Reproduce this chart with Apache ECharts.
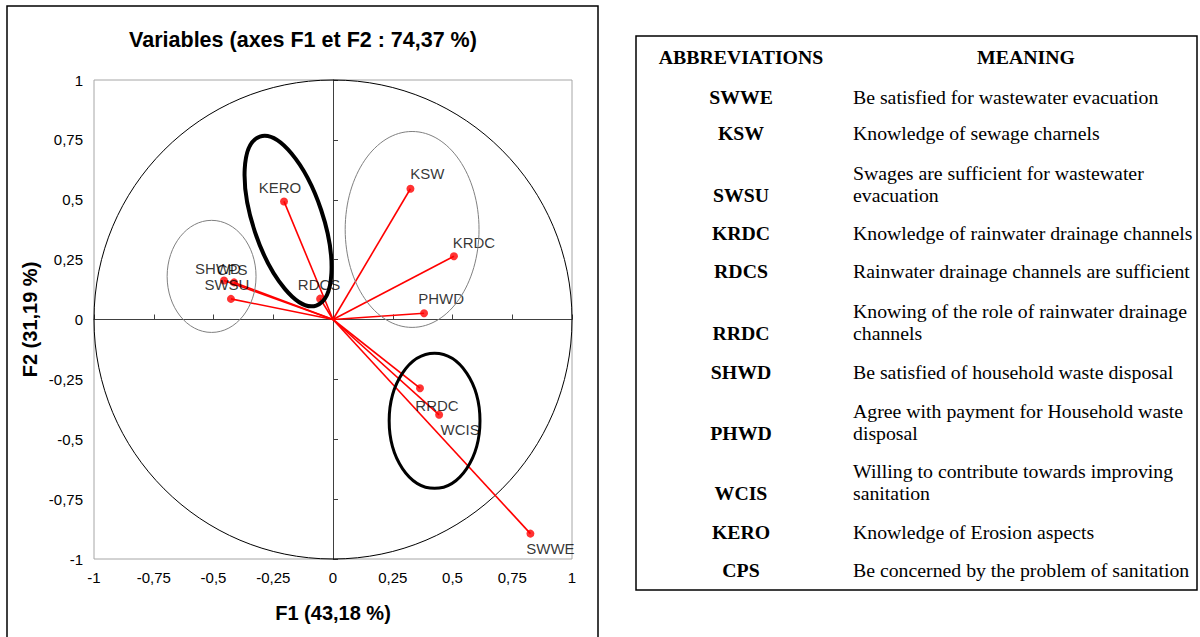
<!DOCTYPE html>
<html>
<head>
<meta charset="utf-8">
<title>Variables (axes F1 et F2)</title>
<script src="https://cdn.jsdelivr.net/npm/echarts@6/dist/echarts.min.js"></script>
<style>
  html, body { margin: 0; padding: 0; background: #fff; }
  #chart { width: 1200px; height: 637px; }
</style>
</head>
<body>
<div id="chart"></div>
<script>
// variable coordinates on the first two factors
const varNames = ['SWWE', 'KSW', 'SWSU', 'KRDC', 'RDCS', 'RRDC', 'SHWD', 'PHWD', 'WCIS', 'KERO', 'CPS'];
const f1 = [0.826, 0.324, -0.427, 0.506, -0.054, 0.364, -0.456, 0.381, 0.444, -0.205, -0.414];
const f2 = [-0.894, 0.546, 0.086, 0.264, 0.087, -0.287, 0.163, 0.026, -0.398, 0.493, 0.155];

// axis ticks
const axisTicks = [-1, -0.75, -0.5, -0.25, 0, 0.25, 0.5, 0.75, 1];

// group ellipses drawn over the plot: centre x, centre y, half width, half height, tilt (deg)
const ellipseCx = [-0.508, 0.331, -0.188, 0.425];
const ellipseCy = [0.180, 0.376, 0.411, -0.423];
const ellipseRx = [0.186, 0.280, 0.146, 0.190];
const ellipseRy = [0.234, 0.409, 0.372, 0.282];
const ellipseTilt = [0, 0, 18.5, 0];

// legend table
const abbreviations = ['SWWE', 'KSW', 'SWSU', 'KRDC', 'RDCS', 'RRDC', 'SHWD', 'PHWD', 'WCIS', 'KERO', 'CPS'];
const meanings = [
    'Be satisfied for wastewater evacuation',
    'Knowledge of sewage charnels',
    'Swages are sufficient for wastewater\nevacuation',
    'Knowledge of rainwater drainage channels',
    'Rainwater drainage channels are sufficient',
    'Knowing of the role of rainwater drainage\nchannels',
    'Be satisfied of household waste disposal',
    'Agree with payment for Household waste\ndisposal',
    'Willing to contribute towards improving\nsanitation',
    'Knowledge of Erosion aspects',
    'Be concerned by the problem of sanitation'
];

// ---- styling / layout ----
const labelOffsets = {
    SWWE: [20, 15], KSW: [17, -15], SWSU: [-4, -14], KRDC: [20, -14], RDCS: [-1, -14],
    RRDC: [17, 17], SHWD: [-6, -12], PHWD: [17, -15], WCIS: [21, 15], KERO: [-4, -14], CPS: [-2, -13]
};
const ellipseColors = ['#808080', '#808080', '#000000', '#000000'];
const ellipseWidths = [1, 1, 4, 3];
const tableRowY = [97, 133, 195, 233, 271, 333, 372, 433, 493, 532, 570];

const sans = 'Arial, "Liberation Sans", Helvetica, sans-serif';
const serif = '"Times New Roman", "Liberation Serif", serif';
const tableFont = 19.8;

function fmt(v) {
    return String(v).replace('.', ',');
}

const chart = echarts.init(document.getElementById('chart'), null, { renderer: 'svg' });

const pointData = varNames.map((name, i) => ({
    name: name,
    value: [f1[i], f2[i]]
}));

const vectorData = varNames.map((name, i) => ({
    coords: [[0, 0], [f1[i], f2[i]]]
}));

const ellipseData = ellipseCx.map((cx, i) => [cx, ellipseCy[i], ellipseRx[i], ellipseRy[i], ellipseTilt[i], i]);

function renderEllipse(params, api) {
    const c = api.coord([api.value(0), api.value(1)]);
    const s = api.size([api.value(2), api.value(3)]);
    const idx = api.value(5);
    return {
        type: 'ellipse',
        x: c[0],
        y: c[1],
        rotation: api.value(4) * Math.PI / 180,
        shape: { cx: 0, cy: 0, rx: s[0], ry: s[1] },
        style: { fill: 'none', stroke: ellipseColors[idx], lineWidth: ellipseWidths[idx] }
    };
}

function renderCircle(params, api) {
    const c = api.coord([api.value(0), api.value(1)]);
    const s = api.size([api.value(2), api.value(2)]);
    return {
        type: 'ellipse',
        shape: { cx: c[0], cy: c[1], rx: s[0], ry: s[1] },
        style: { fill: 'none', stroke: '#000', lineWidth: 1 }
    };
}

const tableTexts = [];
tableTexts.push({
    type: 'text', x: 741, y: 57,
    style: { text: 'ABBREVIATIONS', font: 'bold ' + tableFont + 'px ' + serif, fill: '#000', align: 'center', verticalAlign: 'middle' }
});
tableTexts.push({
    type: 'text', x: 1026, y: 57,
    style: { text: 'MEANING', font: 'bold ' + tableFont + 'px ' + serif, fill: '#000', align: 'center', verticalAlign: 'middle' }
});
abbreviations.forEach((ab, i) => {
    tableTexts.push({
        type: 'text', x: 741, y: tableRowY[i],
        style: { text: ab, font: 'bold ' + tableFont + 'px ' + serif, fill: '#000', align: 'center', verticalAlign: 'middle' }
    });
    tableTexts.push({
        type: 'text', x: 853, y: tableRowY[i] + 11,
        style: { text: meanings[i], font: tableFont + 'px ' + serif, lineHeight: 22, fill: '#000', align: 'left', verticalAlign: 'bottom' }
    });
});

const axisBase = {
    type: 'value',
    min: -1,
    max: 1,
    interval: 0.25,
    splitLine: { show: false }
};

const option = {
    animation: false,
    backgroundColor: '#fff',
    grid: {
        left: 94, top: 80, width: 478, height: 479,
        show: true, borderColor: '#a6a6a6', borderWidth: 1
    },
    xAxis: [
        Object.assign({}, axisBase, {
            position: 'bottom',
            axisLine: { show: false, onZero: false },
            axisTick: { show: false },
            axisLabel: { formatter: fmt, color: '#000', fontFamily: sans, fontSize: 15, margin: 11 },
            name: 'F1 (43,18 %)',
            nameLocation: 'middle',
            nameGap: 44,
            nameTextStyle: { color: '#000', fontFamily: sans, fontSize: 20, fontWeight: 'bold' }
        }),
        Object.assign({}, axisBase, {
            axisLine: { show: true, onZero: true, lineStyle: { color: '#404040', width: 1 } },
            axisTick: { show: true, length: 5, lineStyle: { color: '#404040' } },
            axisLabel: { show: false }
        })
    ],
    yAxis: [
        Object.assign({}, axisBase, {
            position: 'left',
            axisLine: { show: false, onZero: false },
            axisTick: { show: false },
            axisLabel: { formatter: fmt, color: '#000', fontFamily: sans, fontSize: 15, margin: 11 },
            name: 'F2 (31,19 %)',
            nameLocation: 'middle',
            nameGap: 54,
            nameTextStyle: { color: '#000', fontFamily: sans, fontSize: 20, fontWeight: 'bold' }
        }),
        Object.assign({}, axisBase, {
            axisLine: { show: true, onZero: true, lineStyle: { color: '#404040', width: 1 } },
            axisTick: { show: true, length: 5, lineStyle: { color: '#404040' } },
            axisLabel: { show: false }
        })
    ],
    series: [
        {
            type: 'custom',
            name: 'circle',
            xAxisIndex: 0, yAxisIndex: 0,
            renderItem: renderCircle,
            data: [[0, 0, 1]],
            silent: true,
            z: 1
        },
        {
            type: 'lines',
            coordinateSystem: 'cartesian2d',
            xAxisIndex: 0, yAxisIndex: 0,
            data: vectorData,
            lineStyle: { color: '#ff0000', width: 1.6, opacity: 1 },
            silent: true,
            z: 3
        },
        {
            type: 'scatter',
            xAxisIndex: 0, yAxisIndex: 0,
            data: pointData,
            symbol: 'circle',
            symbolSize: 8,
            itemStyle: { color: '#ff0000' },
            label: {
                show: true,
                position: 'inside',
                formatter: '{b}',
                color: '#000',
                fontFamily: sans,
                fontSize: 15
            },
            labelLayout: function (params) {
                const off = labelOffsets[varNames[params.dataIndex]];
                return { dx: off[0], dy: off[1], hideOverlap: false };
            },
            z: 4
        },
        {
            type: 'custom',
            name: 'groups',
            xAxisIndex: 0, yAxisIndex: 0,
            renderItem: renderEllipse,
            data: ellipseData,
            silent: true,
            z: 5
        }
    ],
    graphic: [
        {
            type: 'rect',
            shape: { x: 7, y: 6, width: 591, height: 650 },
            style: { fill: 'none', stroke: '#000', lineWidth: 1.5 },
            silent: true
        },
        {
            type: 'text', x: 303, y: 40,
            style: {
                text: 'Variables (axes F1 et F2 : 74,37 %)',
                font: 'bold 21.5px ' + sans, fill: '#000', align: 'center', verticalAlign: 'middle'
            }
        },
        {
            type: 'rect',
            shape: { x: 636, y: 36, width: 561, height: 554 },
            style: { fill: 'none', stroke: '#000', lineWidth: 1.5 },
            silent: true
        }
    ].concat(tableTexts)
};

chart.setOption(option);
</script>
</body>
</html>
